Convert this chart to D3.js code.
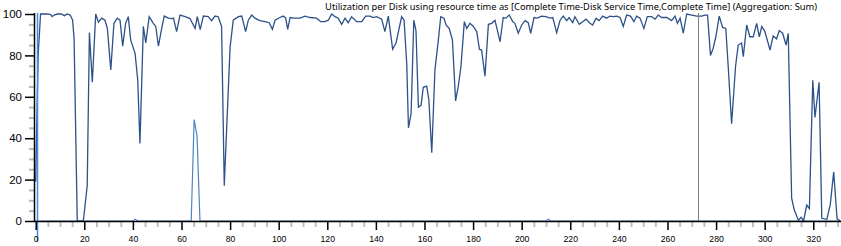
<!DOCTYPE html>
<html>
<head>
<meta charset="utf-8">
<script src="https://cdnjs.cloudflare.com/ajax/libs/d3/7.8.5/d3.min.js"></script>
<style>
body { margin: 0; background: #fff; }
svg { display: block; font-family: "Segoe UI", "Noto Sans", sans-serif; }
</style>
</head>
<body>
<div id="chart"></div>
<script>
var title = "Utilization per Disk using resource time as [Complete Time-Disk Service Time,Complete Time] (Aggregation: Sum)";

// time (s), utilization (%)
var diskTimes = [0,1,2,3,4.5,6,6.8,7.5,9,10.5,11.8,13,14.2,15.2,15.8,17.1,18.4,19.6,21.2,22.1,23.3,24.7,25.8,27.2,28.5,29.5,30.9,32.2,33.6,34.7,35.8,37,38.1,39.1,40.9,42,42.9,44.3,45.3,46.7,48.4,49.4,50.5,51.6,52.9,54.6,56,56.7,58,59.4,61.5,63.5,65.6,66.5,67.7,69,71,72.4,73.8,75.1,76.5,77.6,80,81.3,83.4,84.8,86.4,87.5,88.9,90.2,92.3,94.4,96.1,97.4,98.5,100.5,101.9,102.9,103.7,104.7,106.1,108.8,110.8,112.9,115.6,117.3,119,120.4,121.8,123.2,124.5,125.9,127.3,128.6,130,132.1,134.2,135.8,137.6,138.9,140.3,142.4,143.7,145.1,146.9,148.3,150.6,151.6,152.7,153.4,154.5,155.6,156.5,157.5,158.6,159.5,160.9,161.8,163,164.3,165.7,166.7,168,168.9,170.2,171.5,172.8,173.9,175,176.4,177.4,178.7,180.1,181.5,182.6,183.5,184.9,186.3,187.7,189,191.1,192.4,193.5,194.9,196.3,197.2,198.6,200,201.4,202.7,203.7,205.1,206.4,208.2,210,211.6,212.8,214.4,215.8,217.1,218.5,219.5,221,221.9,223.7,225.1,226.5,228.1,229.2,230.6,231.9,233.3,235,236.3,237.7,239.1,240.5,241.8,243.2,244.8,246.2,247.3,248.7,250.3,251.7,253.5,254.9,256.2,257.6,259.7,261.7,263.1,264.1,265.2,266.5,267.9,270,272,274.1,275.4,276.5,277.7,278.8,279.9,281.3,282.7,284,285,286.4,288,289.1,290.5,291.2,292.6,293.9,295.3,296.7,297.8,298.8,300.1,302.2,303.5,304.9,306,307.4,308.8,309.7,311.1,312.2,313.3,313.9,315,316,317.3,318.4,319.8,320.7,322.4,323.5,325.6,327,328.4,329.8,331.2];
var diskUtil = [19,80,100,100,100,99.8,98.8,99.5,100,100,99.2,100,99.5,97,88,0,0,0,17,91,67,100,96,98,97,93,73,95.5,98,97,84.5,95.5,98.7,87.4,81,68,37.5,94,86,98.7,95.5,94,84.5,91.5,99,98,97.8,98,91.5,99.5,98.7,97.8,93,98.7,92.5,99,98.7,96.8,99,98.7,94,17,84,97,98.7,99,91.5,97,99.5,98,96.8,96.3,95.8,92.6,97,98.3,99,98,92.6,98.3,98,98,99,98.3,98,96.3,96.3,97,100,98.7,98,95,98,95.8,98.7,96.3,96.3,99,99,98.3,98.7,97.5,91.5,99,83,86,98.7,97,76,45,52,97,92,55,56,64.6,65.2,58.6,33,73,87.4,98.7,98,94.7,93,87.4,58,65,74.5,96.3,93,95.5,94,91.5,83,82.6,70,95,95.5,97,86.6,98.3,98,99.5,96.3,95.5,90.7,94.7,96.8,95.8,90.7,98.3,98,99,98.7,98,98.3,91,97,99,96.8,98.3,95.8,98.7,95,96.3,97.5,95.5,94.7,98,96.8,99,98,99,98.7,99,98.3,94,99.5,99,96.3,99,98,93,98.7,98.7,97.5,99.5,98.3,98.3,96.8,99,95.5,98,90.7,100,99.5,99,99,99.5,99.5,80,83.4,89,99,93.5,93,74.5,47,74.5,85,86,79.4,94.7,89,89,95.5,89,94,91.5,82.6,89.4,88,92,90.7,85,90.7,11,5.3,2,0.4,1.8,0,7.7,6,68,50,67,1.3,0.8,8,23.8,1,0];

var otherTimes = [0,40,41,42,64,65.2,66.4,67.6,210,211,212,331];
var otherUtil = [0,0,0.8,0,0,49,41,0,0,0.8,0,0];

var xMajorTicks = [0,20,40,60,80,100,120,140,160,180,200,220,240,260,280,300,320];
var yMajorTicks = [0,20,40,60,80,100];
var markerTimes = [0.7, 272.7];

var width = 841, height = 246;
var x0 = 35.7, x1 = 840, yTop = 14, yBottom = 221;

var svg = d3.select("#chart").append("svg").attr("width", width).attr("height", height);

var x = d3.scaleLinear().domain([0, 331]).range([x0, x1]);
var y = d3.scaleLinear().domain([0, 100]).range([yBottom, yTop]);

function minorOf(major, step, max) {
	var out = [];
	for (var v = 0; v <= max; v += step) {
		if (major.indexOf(v) < 0) out.push(v);
	}
	return out;
}

// minor ticks first so the major ones sit on top
svg.append("g")
	.attr("transform", "translate(0," + yBottom + ")")
	.call(d3.axisBottom(x).tickValues(minorOf(xMajorTicks, 5, 330)).tickSize(6).tickFormat(""))
	.call(function (g) {
		g.select(".domain").remove();
		g.selectAll("line").attr("stroke", "#c0c0c0").attr("stroke-width", 2);
	});

svg.append("g")
	.attr("transform", "translate(35,0)")
	.call(d3.axisLeft(y).tickValues(minorOf(yMajorTicks, 5, 100)).tickSize(6).tickFormat(""))
	.call(function (g) {
		g.select(".domain").remove();
		g.selectAll("line").attr("stroke", "#b8b8b8").attr("stroke-width", 2);
	});

var line = d3.line()
	.x(function (d) { return x(d[0]); })
	.y(function (d) { return y(d[1]); });

svg.append("path")
	.datum(d3.zip(otherTimes, otherUtil))
	.attr("fill", "none")
	.attr("stroke", "#4f84c4")
	.attr("stroke-width", 1.2)
	.attr("d", line);

svg.append("path")
	.datum(d3.zip(diskTimes, diskUtil))
	.attr("fill", "none")
	.attr("stroke", "#2d5189")
	.attr("stroke-width", 1.3)
	.attr("d", line);

svg.selectAll(".marker")
	.data(markerTimes)
	.enter().append("line")
	.attr("class", "marker")
	.attr("x1", function (d) { return Math.round(x(d)) + 0.5; })
	.attr("x2", function (d) { return Math.round(x(d)) + 0.5; })
	.attr("y1", yTop - 1)
	.attr("y2", function (d, i) { return i === 0 ? 242 : yBottom; })
	.attr("stroke", function (d, i) { return i === 0 ? "#3b8fe8" : "#808080"; })
	.attr("stroke-width", function (d, i) { return i === 0 ? 1.5 : 1; });

var xAxis = svg.append("g")
	.attr("transform", "translate(0," + yBottom + ")")
	.call(d3.axisBottom(x).tickValues(xMajorTicks).tickSize(9).tickPadding(6).tickSizeOuter(0));
xAxis.select(".domain").attr("d", "M" + 35 + ",0.5H" + width).attr("stroke", "#000").attr("stroke-width", 1.5);
xAxis.selectAll("line").attr("stroke", "#000").attr("stroke-width", 1.5);
xAxis.selectAll("text").attr("font-size", 8.7).attr("fill", "#000").attr("font-family", null);

var yAxis = svg.append("g")
	.attr("transform", "translate(35,0)")
	.call(d3.axisLeft(y).tickValues(yMajorTicks).tickSize(10).tickPadding(3).tickSizeOuter(0));
yAxis.select(".domain").attr("d", "M-0.5," + (yTop - 1) + "V" + (yBottom + 0.5)).attr("stroke", "#000").attr("stroke-width", 1.5);
yAxis.selectAll("line").attr("stroke", "#000").attr("stroke-width", 1.5);
yAxis.selectAll("text").attr("font-size", 11.5).attr("fill", "#000").attr("font-family", null);

svg.append("text")
	.attr("x", 817)
	.attr("y", 10)
	.attr("text-anchor", "end")
	.attr("font-size", 9.3)
	.attr("fill", "#000")
	.text(title);
</script>
</body>
</html>
